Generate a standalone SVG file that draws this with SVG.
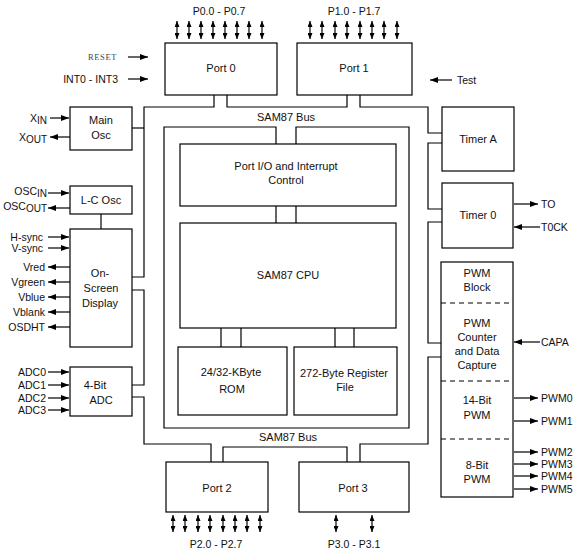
<svg xmlns="http://www.w3.org/2000/svg" width="578" height="551" viewBox="0 0 578 551">
<style>
text{font-family:"Liberation Sans",Arial,sans-serif;font-size:11px;fill:#111;}
.c{text-anchor:middle;}
.r{text-anchor:end;}
.l{font-size:10.5px;}
.box{fill:#fff;stroke:#000;stroke-width:1.2;}
.ln{fill:none;stroke:#000;stroke-width:1.2;}
.ar{fill:none;stroke:#000;stroke-width:1.2;marker-end:url(#ah);}
.da line{stroke:#000;stroke-width:1.2;marker-start:url(#sh);marker-end:url(#sh);}
.dash{stroke:#000;stroke-width:1.2;stroke-dasharray:5,4;}
.rst{font-family:"Liberation Serif",serif;font-size:8.5px;fill:#444;letter-spacing:0.6px;}
</style>
<defs>
<marker id="ah" viewBox="0 0 8 6" markerWidth="8" markerHeight="6" refX="8" refY="3" orient="auto" markerUnits="userSpaceOnUse"><path d="M0,0 L8,3 L0,6 z" fill="#000"/></marker>
<marker id="sh" viewBox="0 0 6 5" markerWidth="6" markerHeight="5" refX="6" refY="2.5" orient="auto-start-reverse" markerUnits="userSpaceOnUse"><path d="M0,0 L6,2.5 L0,5 z" fill="#000"/></marker>
</defs>

<g id="connectors">
<path class="ln" d="M276,144 V127 H164 V428 H409 V127 H296 V144"/>
<path class="ln" d="M276,206 V223 M296,206 V223"/>
<path class="ln" d="M221,328 V347 M241,328 V347 M335,328 V347 M354,328 V347"/>
<path class="ln" d="M214,95 V107 H144 V277 H132"/>
<path class="ln" d="M132,290 H144 V385 H132"/>
<path class="ln" d="M132,397 H144 V444 H211 V462"/>
<path class="ln" d="M132,128 H144"/>
<path class="ln" d="M227,95 V107 H347 V95"/>
<path class="ln" d="M360,95 V107 H428 V133 H442"/>
<path class="ln" d="M442,143 H428 V209 H442"/>
<path class="ln" d="M442,222 H428 V343 H441"/>
<path class="ln" d="M441,357 H428 V444 H360 V462"/>
<path class="ln" d="M223,462 V447 H347 V462"/>
<path class="ln" d="M101,214 V229"/>
<g class="da">
<line x1="177" y1="21" x2="177" y2="39"/><line x1="189" y1="21" x2="189" y2="39"/><line x1="201" y1="21" x2="201" y2="39"/><line x1="213" y1="21" x2="213" y2="39"/><line x1="225" y1="21" x2="225" y2="39"/><line x1="237" y1="21" x2="237" y2="39"/><line x1="249" y1="21" x2="249" y2="39"/><line x1="262" y1="21" x2="262" y2="39"/>
<line x1="310" y1="21" x2="310" y2="39"/><line x1="322" y1="21" x2="322" y2="39"/><line x1="335" y1="21" x2="335" y2="39"/><line x1="347" y1="21" x2="347" y2="39"/><line x1="360" y1="21" x2="360" y2="39"/><line x1="372" y1="21" x2="372" y2="39"/><line x1="384" y1="21" x2="384" y2="39"/><line x1="397" y1="21" x2="397" y2="39"/>
<line x1="173" y1="515" x2="173" y2="532"/><line x1="185" y1="515" x2="185" y2="532"/><line x1="198" y1="515" x2="198" y2="532"/><line x1="210" y1="515" x2="210" y2="532"/><line x1="223" y1="515" x2="223" y2="532"/><line x1="235" y1="515" x2="235" y2="532"/><line x1="247" y1="515" x2="247" y2="532"/><line x1="260" y1="515" x2="260" y2="532"/>
<line x1="336" y1="515" x2="336" y2="532"/><line x1="372" y1="515" x2="372" y2="532"/>
</g>
<path class="ar" d="M128,57 H148"/>
<path class="ar" d="M128,79 H148"/>
<path class="ar" d="M452,80 H430"/>
<path class="ar" d="M50,118 H69"/>
<path class="ar" d="M70,137 H50"/>
<path class="ar" d="M48,193 H69"/>
<path class="ar" d="M70,208 H48"/>
<path class="ar" d="M48,237 H69"/>
<path class="ar" d="M48,248 H69"/>
<path class="ar" d="M70,267 H48"/>
<path class="ar" d="M70,282 H48"/>
<path class="ar" d="M70,297 H48"/>
<path class="ar" d="M70,312 H48"/>
<path class="ar" d="M70,327 H48"/>
<path class="ar" d="M48,372 H69"/>
<path class="ar" d="M48,385 H69"/>
<path class="ar" d="M48,398 H69"/>
<path class="ar" d="M48,410 H69"/>
<path class="ar" d="M514,204 H538"/>
<path class="ar" d="M540,227 H514"/>
<path class="ar" d="M540,342 H514"/>
<path class="ar" d="M514,398 H538"/>
<path class="ar" d="M514,421 H538"/>
<path class="ar" d="M514,452 H538"/>
<path class="ar" d="M514,464 H538"/>
<path class="ar" d="M514,476 H538"/>
<path class="ar" d="M514,489 H538"/>
</g>

<g id="port0"><rect class="box" x="165" y="43" width="112" height="52"/><text class="c" x="221" y="72">Port 0</text></g>
<g id="port1"><rect class="box" x="297" y="43" width="115" height="52"/><text class="c" x="354" y="72">Port 1</text></g>
<g id="port2"><rect class="box" x="166" y="462" width="102" height="50"/><text class="c" x="217" y="492">Port 2</text></g>
<g id="port3"><rect class="box" x="299" y="462" width="110" height="50"/><text class="c" x="353" y="492">Port 3</text></g>
<g id="mainosc"><rect class="box" x="70" y="107" width="62" height="43"/><text class="c" x="101" y="124">Main</text><text class="c" x="101" y="139">Osc</text></g>
<g id="lcosc"><rect class="box" x="70" y="186" width="62" height="28"/><text class="c" x="101" y="204">L-C Osc</text></g>
<g id="osd"><rect class="box" x="70" y="229" width="62" height="118"/><text class="c" x="100" y="277">On-</text><text class="c" x="101" y="292">Screen</text><text class="c" x="100" y="307">Display</text></g>
<g id="adc"><rect class="box" x="70" y="367" width="62" height="49"/><text class="c" x="95" y="389">4-Bit</text><text class="c" x="101" y="404">ADC</text></g>
<g id="timera"><rect class="box" x="442" y="107" width="72" height="64"/><text class="c" x="478" y="143">Timer A</text></g>
<g id="timer0"><rect class="box" x="442" y="183" width="71" height="65"/><text class="c" x="478" y="219">Timer 0</text></g>
<g id="pwm">
<rect class="box" x="441" y="262" width="72" height="235"/>
<line class="dash" x1="441" y1="303" x2="513" y2="303"/>
<line class="dash" x1="441" y1="381" x2="513" y2="381"/>
<line class="dash" x1="441" y1="439" x2="513" y2="439"/>
<text class="c" x="477" y="277">PWM</text><text class="c" x="477" y="291">Block</text>
<text class="c" x="477" y="327">PWM</text><text class="c" x="477" y="341">Counter</text><text class="c" x="477" y="355">and Data</text><text class="c" x="477" y="369">Capture</text>
<text class="c" x="477" y="404">14-Bit</text><text class="c" x="477" y="419">PWM</text>
<text class="c" x="477" y="469">8-Bit</text><text class="c" x="477" y="483">PWM</text>
</g>
<g id="portio"><rect class="box" x="180" y="144" width="216" height="62"/><text class="c" x="286" y="170">Port I/O and Interrupt</text><text class="c" x="286" y="184">Control</text></g>
<g id="cpu"><rect class="box" x="180" y="223" width="216" height="105"/><text class="c" x="288" y="279">SAM87 CPU</text></g>
<g id="rom"><rect class="box" x="178" y="347" width="109" height="68"/><text class="c" x="231" y="376">24/32-KByte</text><text class="c" x="232" y="393">ROM</text></g>
<g id="regfile"><rect class="box" x="294" y="347" width="103" height="68"/><text class="c" x="344" y="377">272-Byte Register</text><text class="c" x="345" y="391">File</text></g>

<g id="labels">
<text class="c" x="286" y="121">SAM87 Bus</text>
<text class="c" x="288" y="441">SAM87 Bus</text>
<text class="c l" x="219" y="15">P0.0 - P0.7</text>
<text class="c l" x="354" y="15">P1.0 - P1.7</text>
<text class="c l" x="216" y="548">P2.0 - P2.7</text>
<text class="c l" x="354" y="548">P3.0 - P3.1</text>
<text class="r rst" x="117" y="60">RESET</text>
<text class="r l" x="118" y="83">INT0 - INT3</text>
<text class="l" x="457" y="84">Test</text>
<text class="r l" x="47" y="122">X<tspan font-size="10" dy="2">IN</tspan></text>
<text class="r l" x="47" y="141">X<tspan font-size="10" dy="2">OUT</tspan></text>
<text class="r l" x="47" y="195">OSC<tspan font-size="10" dy="2">IN</tspan></text>
<text class="r l" x="47" y="210">OSC<tspan font-size="10" dy="2">OUT</tspan></text>
<text class="r l" x="43" y="241">H-sync</text>
<text class="r l" x="43" y="252">V-sync</text>
<text class="r l" x="45" y="271">Vred</text>
<text class="r l" x="45" y="286">Vgreen</text>
<text class="r l" x="45" y="301">Vblue</text>
<text class="r l" x="45" y="316">Vblank</text>
<text class="r l" x="45" y="331">OSDHT</text>
<text class="r l" x="46" y="376">ADC0</text>
<text class="r l" x="46" y="389">ADC1</text>
<text class="r l" x="46" y="402">ADC2</text>
<text class="r l" x="46" y="414">ADC3</text>
<text class="l" x="541" y="208">TO</text>
<text class="l" x="541" y="231">T0CK</text>
<text class="l" x="541" y="346">CAPA</text>
<text class="l" x="541" y="402">PWM0</text>
<text class="l" x="541" y="425">PWM1</text>
<text class="l" x="541" y="456">PWM2</text>
<text class="l" x="541" y="468">PWM3</text>
<text class="l" x="541" y="480">PWM4</text>
<text class="l" x="541" y="493">PWM5</text>
</g>
</svg>
